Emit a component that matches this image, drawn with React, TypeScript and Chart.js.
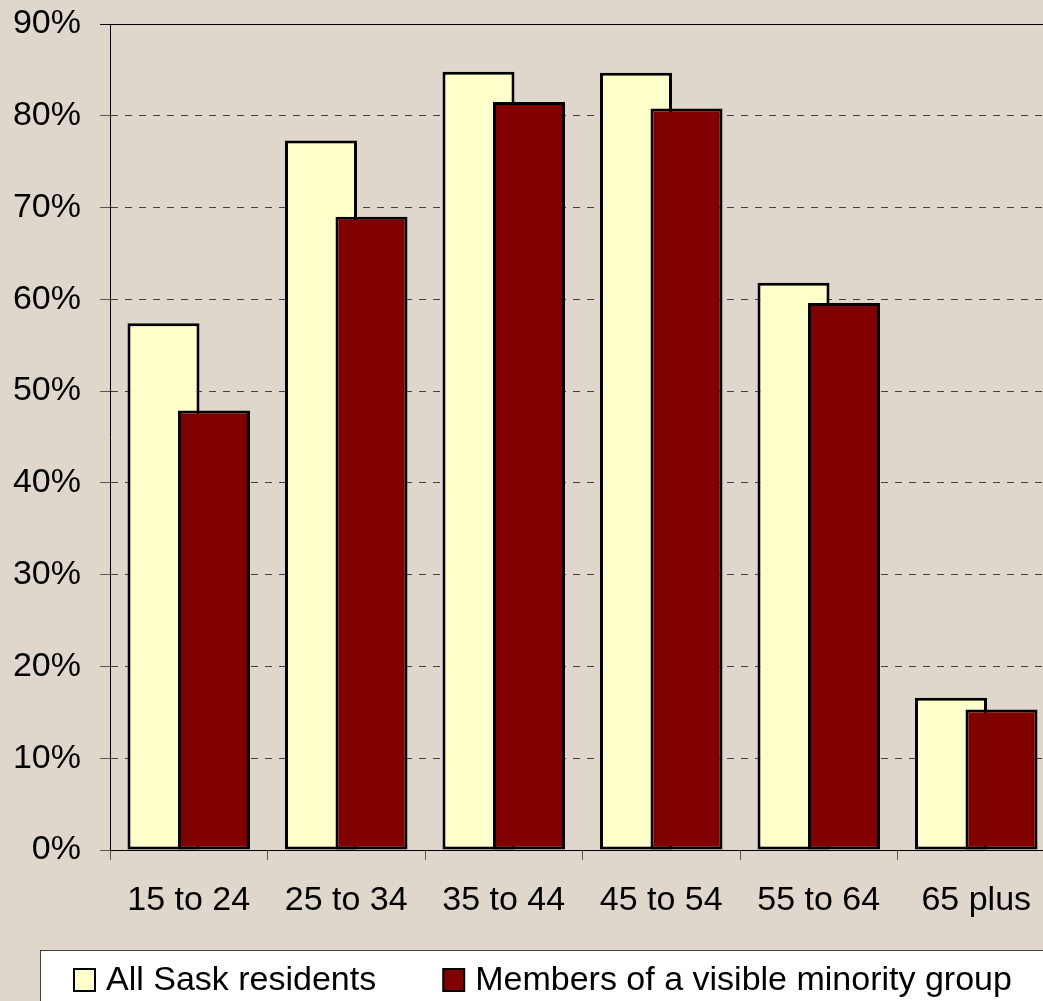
import React, { useEffect, useRef } from "react";
import { Chart, registerables } from "chart.js";

Chart.register(...registerables);

const categories = ["15 to 24", "25 to 34", "35 to 44", "45 to 54", "55 to 64", "65 plus"];
const allSaskResidents = [57.4, 77.3, 84.8, 84.7, 61.8, 16.6];
const visibleMinority = [47.9, 69.0, 81.5, 80.8, 59.6, 15.3];
const seriesNames = ["All Sask residents", "Members of a visible minority group"];
const seriesColors = ["#FFFFCC", "#800000"];
const yTicks = [0, 10, 20, 30, 40, 50, 60, 70, 80, 90];

const FONT = "'Liberation Sans', Arial, sans-serif";

export default function App() {
  const ref = useRef<HTMLCanvasElement | null>(null);

  useEffect(() => {
    const canvas = ref.current;
    if (!canvas) return;

    const orderPlugin = {
      id: "drawOrder",
      beforeDatasetsDraw(chart: any) {
        for (let i = 0; i < chart.data.datasets.length; i++) {
          const meta = chart.getDatasetMeta(i);
          if (!meta.hidden) meta.controller.draw();
        }
        return false;
      },
    };

    const framePlugin = {
      id: "frame",
      afterDraw(chart: any) {
        const ctx = chart.ctx;
        const area = chart.chartArea;
        const y = chart.scales.y;
        ctx.save();
        const p = y.getPixelForValue(yTicks[yTicks.length - 1]);
        const top = Math.round(p - 0.5) + 0.5;
        ctx.strokeStyle = "#000";
        ctx.lineWidth = 1;
        ctx.setLineDash([]);
        ctx.beginPath();
        ctx.moveTo(area.left - 10, top);
        ctx.lineTo(area.right, top);
        ctx.stroke();

        // legend box
        const lx = 40.5;
        const ly = 950.5;
        ctx.fillStyle = "#FFFFFF";
        ctx.fillRect(lx, ly, chart.width, 100);
        ctx.strokeStyle = "#404040";
        ctx.strokeRect(lx, ly, chart.width, 100);

        ctx.font = `34px ${FONT}`;
        ctx.textBaseline = "middle";
        ctx.textAlign = "left";
        let x = 73;
        const sqTop = 968;
        const sqW = 23;
        const sqH = 24;
        chart.data.datasets.forEach((ds: any, i: number) => {
          ctx.fillStyle = "#000";
          ctx.fillRect(x, sqTop, sqW, sqH);
          ctx.fillStyle = seriesColors[i];
          ctx.fillRect(x + 2, sqTop + 2, sqW - 4, sqH - 4);
          ctx.fillStyle = "#000";
          ctx.fillText(ds.label, x + 33, 981);
          const w = ctx.measureText(ds.label).width;
          x = x + 33 + w + 66;
        });
        ctx.restore();
      },
    };

    const chart = new Chart(canvas, {
      type: "bar",
      data: {
        labels: categories,
        datasets: [
          {
            label: seriesNames[0],
            data: allSaskResidents,
            backgroundColor: seriesColors[0],
            borderColor: "#000000",
            borderWidth: 3,
            borderSkipped: false,
          },
          {
            label: seriesNames[1],
            data: visibleMinority,
            backgroundColor: seriesColors[1],
            borderColor: "#000000",
            borderWidth: 3,
            borderSkipped: false,
          },
        ],
      },
      options: {
        animation: false,
        responsive: false,
        devicePixelRatio: 1,
        categoryPercentage: 0.6413,
        barPercentage: 1.426,
        layout: { padding: { left: 0, right: 20, top: 24, bottom: 0 } },
        plugins: {
          legend: { display: false },
          tooltip: { enabled: false },
        },
        scales: {
          x: {
            type: "category",
            offset: true,
            grid: {
              offset: true,
              drawOnChartArea: false,
              drawTicks: true,
              tickLength: 10,
              color: "#555555",
            },
            border: { display: true, color: "#000000", width: 1 },
            ticks: {
              color: "#000000",
              font: { family: FONT, size: 34 },
              padding: 20,
              maxRotation: 0,
              autoSkip: false,
            },
            afterFit(scale: any) {
              scale.height = 151;
              scale.paddingLeft = 0;
              scale.paddingRight = 0;
            },
          },
          y: {
            type: "linear",
            min: 0,
            max: 90,
            afterBuildTicks(scale: any) {
              scale.ticks = yTicks.map((v) => ({ value: v }));
            },
            grid: {
              color: "#404040",
              lineWidth: 1,
              tickLength: 10,
              tickColor: "#555555",
              drawTicks: true,
            },
            border: { display: true, color: "#000000", width: 1, dash: [7, 7] },
            ticks: {
              color: "#000000",
              font: { family: FONT, size: 34 },
              padding: 19,
              callback: (v: any) => `${v}%`,
            },
            afterFit(scale: any) {
              scale.width = 110;
              scale.paddingTop = 0;
              scale.paddingBottom = 0;
            },
          },
        },
      },
      plugins: [orderPlugin, framePlugin],
    });

    return () => chart.destroy();
  }, []);

  return (
    <div
      style={{
        position: "fixed",
        left: 0,
        top: 0,
        width: 1043,
        height: 1001,
        overflow: "hidden",
        background: "#DFD7CB",
      }}
    >
      <canvas ref={ref} width={1075} height={1001} style={{ display: "block" }} />
    </div>
  );
}
